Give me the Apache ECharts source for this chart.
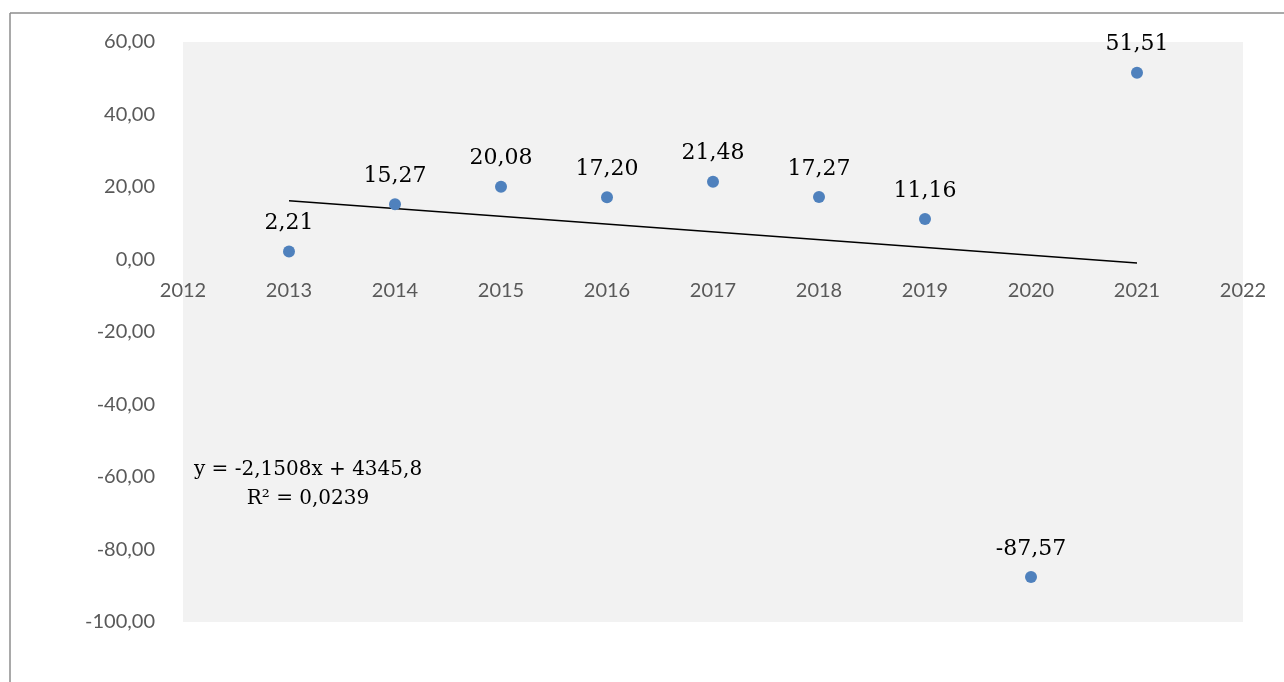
<!DOCTYPE html>
<html>
<head>
<meta charset="utf-8">
<script src="https://cdn.jsdelivr.net/npm/echarts@6/dist/echarts.min.js"></script>
<style>
html,body{margin:0;padding:0;background:#fff;}
#c{width:1284px;height:682px;}
</style>
</head>
<body>
<div id="c"></div>
<script>
const years = [2013, 2014, 2015, 2016, 2017, 2018, 2019, 2020, 2021];
const values = [2.21, 15.27, 20.08, 17.20, 21.48, 17.27, 11.16, -87.57, 51.51];
const trendPoints = [[2013, 16.24], [2021, -0.97]];
const equationLines = ['y = -2,1508x + 4345,8', 'R² = 0,0239'];

const fmt = v => v.toFixed(2).replace('.', ',');
const chart = echarts.init(document.getElementById('c'));
chart.setOption({
  backgroundColor: '#fff',
  animation: false,
  grid: {left: 183, right: 41, top: 42, bottom: 60, show: true, backgroundColor: '#f2f2f2', borderWidth: 0},
  xAxis: {
    type: 'value', min: 2012, max: 2022, interval: 1,
    offset: -362.5,
    axisLine: {show: false, onZero: false},
    axisTick: {show: false},
    splitLine: {show: false},
    axisLabel: {color: '#595959', fontFamily: 'Lato', fontSize: 20, margin: 21, showMinLabel: true, showMaxLabel: true,
      formatter: v => String(v)}
  },
  yAxis: {
    type: 'value', min: -100, max: 60, interval: 20,
    axisLine: {show: false}, axisTick: {show: false}, splitLine: {show: false},
    axisLabel: {color: '#595959', fontFamily: 'Lato', fontSize: 20, margin: 28, formatter: v => fmt(v)}
  },
  series: [
    {
      type: 'line', data: trendPoints, symbol: 'none', silent: true,
      lineStyle: {color: '#000', width: 1.5}, z: 2
    },
    {
      type: 'scatter', data: years.map((y, i) => [y, values[i]]), symbolSize: 12,
      itemStyle: {color: '#4f81bd', opacity: 1}, z: 3,
      label: {show: true, position: 'top', distance: 11, color: '#000', fontFamily: 'DejaVu Serif', fontSize: 22,
        formatter: p => fmt(p.value[1])}
    }
  ],
  graphic: [
    {type: 'line', shape: {x1: 10, y1: 13, x2: 10, y2: 682}, style: {stroke: '#8c8c8c', lineWidth: 1.5}},
    {type: 'line', shape: {x1: 10, y1: 13, x2: 1284, y2: 13}, style: {stroke: '#8c8c8c', lineWidth: 1.5}},
    {type: 'text', x: 308, y: 470, style: {text: equationLines[0], fill: '#000', font: '20px "DejaVu Serif"', textAlign: 'center', textVerticalAlign: 'middle'}},
    {type: 'text', x: 308, y: 499, style: {text: equationLines[1], fill: '#000', font: '20px "DejaVu Serif"', textAlign: 'center', textVerticalAlign: 'middle'}}
  ]
});
</script>
</body>
</html>
